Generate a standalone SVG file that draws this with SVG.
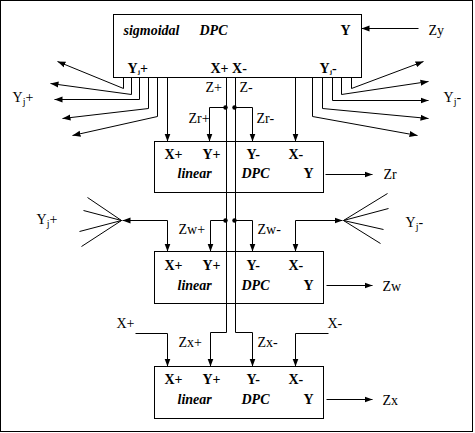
<svg xmlns="http://www.w3.org/2000/svg" width="475" height="433" viewBox="0 0 475 433" font-family="'Liberation Serif', 'Times New Roman', 'DejaVu Serif', serif">
<style>
text{font-family:'Liberation Serif','Times New Roman','DejaVu Serif',serif;font-size:14px;fill:#000}
.b{font-weight:bold}
.bi{font-weight:bold;font-style:italic}
.box{fill:none;stroke:#000;stroke-width:1}
.ln{fill:none;stroke:#000;stroke-width:1}
.ar{fill:none;stroke:#000;stroke-width:1;marker-end:url(#ah)}
</style>
<defs>
<marker id="ah" markerUnits="userSpaceOnUse" markerWidth="9" markerHeight="7" refX="8" refY="3.5" orient="auto">
<path d="M0,0.5 L8,3.5 L0,6.5 z" fill="#000"/>
</marker>
</defs>
<rect width="475" height="433" fill="#fff"/>
<g transform="translate(0.5,0.5)">
<rect x="0" y="0" width="472" height="431" class="box"/>

<g id="sigmoid">
<rect x="113" y="14" width="248" height="63" class="box"/>
<text x="123" y="34" class="bi">sigmoidal</text>
<text x="199" y="34" class="bi">DPC</text>
<text x="340" y="34" class="b">Y</text>
<text x="127" y="72" class="b">Y<tspan font-size="7" dy="1">j</tspan><tspan dy="-1">+</tspan></text>
<text x="210" y="72" class="b">X+ X-</text>
<text x="319" y="72" class="b">Y<tspan font-size="7" dy="1">j</tspan><tspan dy="-1">-</tspan></text>
</g>

<g id="linear-r">
<rect x="154" y="141" width="169" height="51" class="box"/>
<text x="164" y="158" class="b">X+</text>
<text x="202" y="158" class="b">Y+</text>
<text x="246" y="158" class="b">Y-</text>
<text x="288" y="158" class="b">X-</text>
<text x="177" y="177" class="bi">linear</text>
<text x="241" y="177" class="bi">DPC</text>
<text x="303" y="177" class="b">Y</text>
</g>

<g id="linear-w">
<rect x="154" y="251" width="169" height="52" class="box"/>
<text x="164" y="269" class="b">X+</text>
<text x="202" y="269" class="b">Y+</text>
<text x="246" y="269" class="b">Y-</text>
<text x="288" y="269" class="b">X-</text>
<text x="177" y="289" class="bi">linear</text>
<text x="241" y="289" class="bi">DPC</text>
<text x="303" y="289" class="b">Y</text>
</g>

<g id="linear-x">
<rect x="154" y="366" width="169" height="52" class="box"/>
<text x="164" y="383" class="b">X+</text>
<text x="202" y="383" class="b">Y+</text>
<text x="246" y="383" class="b">Y-</text>
<text x="288" y="383" class="b">X-</text>
<text x="177" y="403" class="bi">linear</text>
<text x="241" y="403" class="bi">DPC</text>
<text x="303" y="403" class="b">Y</text>
</g>

<g id="connectors">
<line x1="418" y1="28" x2="361" y2="28" class="ar"/>
<polyline points="123,77 123,88 57,61" class="ar"/>
<polyline points="131,77 131,94 50,83" class="ar"/>
<polyline points="139,77 139,99 54,99" class="ar"/>
<polyline points="148,77 148,108 62,118" class="ar"/>
<polyline points="157,77 157,116 72,135" class="ar"/>
<polyline points="351,77 351,88 423,61" class="ar"/>
<polyline points="341,77 341,94 428,81" class="ar"/>
<polyline points="332,77 332,100 428,100" class="ar"/>
<polyline points="322,77 322,108 428,118" class="ar"/>
<polyline points="312,77 312,116 417,135" class="ar"/>
<line x1="167" y1="77" x2="167" y2="141" class="ar"/>
<line x1="295" y1="77" x2="295" y2="141" class="ar"/>

<polyline points="226,77 226,332 210,332 210,366" class="ar"/>
<polyline points="235,77 235,332 252,332 252,366" class="ar"/>
<polyline points="226,107 209,107 209,141" class="ar"/>
<polyline points="235,107 252,107 252,141" class="ar"/>
<polyline points="226,220 210,220 210,251" class="ar"/>
<polyline points="235,220 252,220 252,251" class="ar"/>
<circle cx="225" cy="107" r="2.2"/>
<circle cx="234" cy="107" r="2.2"/>
<circle cx="225" cy="220" r="2.2"/>
<circle cx="234" cy="220" r="2.2"/>

<line x1="167" y1="220" x2="122" y2="220" class="ar"/>
<line x1="167" y1="220" x2="167" y2="251" class="ar"/>
<line x1="295" y1="220" x2="342" y2="220" class="ar"/>
<line x1="295" y1="220" x2="295" y2="251" class="ar"/>
<path d="M121,220 L87,197 M121,220 L83,210 M121,220 L79,231 M121,220 L81,246" class="ln"/>
<path d="M343,220 L387,193 M343,220 L388,208 M343,220 L383,229 M343,220 L380,243" class="ln"/>

<polyline points="135,333 167,333 167,366" class="ar"/>
<polyline points="328,333 295,333 295,366" class="ar"/>

<line x1="325" y1="174" x2="372" y2="174" class="ar"/>
<line x1="326" y1="285" x2="372" y2="285" class="ar"/>
<line x1="326" y1="399" x2="372" y2="399" class="ar"/>
</g>

<g id="labels">
<text x="428" y="34">Zy</text>
<text x="12" y="101">Y<tspan font-size="10" dy="3">j</tspan><tspan dy="-3">+</tspan></text>
<text x="443" y="101">Y<tspan font-size="10" dy="3">j</tspan><tspan dy="-3">-</tspan></text>
<text x="205" y="91">Z+</text>
<text x="239" y="91">Z-</text>
<text x="188" y="122">Zr+</text>
<text x="256" y="122">Zr-</text>
<text x="383" y="178">Zr</text>
<text x="36" y="223">Y<tspan font-size="10" dy="3">j</tspan><tspan dy="-3">+</tspan></text>
<text x="405" y="226">Y<tspan font-size="10" dy="3">j</tspan><tspan dy="-3">-</tspan></text>
<text x="178" y="233">Zw+</text>
<text x="257" y="233">Zw-</text>
<text x="382" y="290">Zw</text>
<text x="116" y="327">X+</text>
<text x="327" y="327">X-</text>
<text x="178" y="346">Zx+</text>
<text x="257" y="346">Zx-</text>
<text x="382" y="404">Zx</text>
</g>
</g>
</svg>
